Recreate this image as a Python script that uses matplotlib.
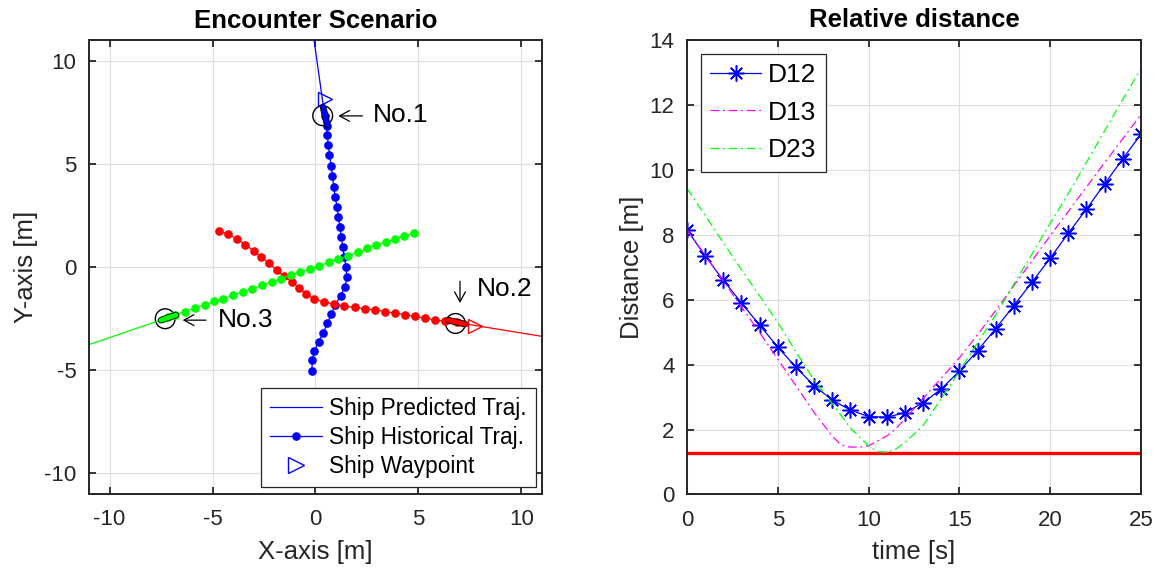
import matplotlib
matplotlib.use('Agg')
import matplotlib.pyplot as plt
import matplotlib.patheffects as pe
from matplotlib.lines import Line2D
from matplotlib.patches import Circle

plt.rcParams['font.family'] = ['Liberation Sans', 'DejaVu Sans']
plt.rcParams['axes.unicode_minus'] = False

# ---------------- data: encounter scenario ----------------
# Ship No.1 (blue) historical trajectory
ship1_hist_x = [-0.18, -0.15, -0.05, 0.16, 0.37, 0.58, 0.77, 0.95, 1.22, 1.44, 1.52, 1.48,
                1.40, 1.32, 1.26, 1.18, 1.11, 1.05, 0.95, 0.89, 0.82, 0.76, 0.68, 0.63,
                0.57, 0.55, 0.45]
ship1_hist_y = [-5.05, -4.53, -4.08, -3.64, -3.20, -2.75, -2.30, -1.86, -1.41, -0.97, -0.49, 0.00,
                0.49, 0.97, 1.46, 1.94, 2.43, 2.91, 3.40, 3.88, 4.40, 4.89, 5.42, 5.91,
                6.39, 6.82, 7.30]
# Ship No.2 (red)
ship2_hist_x = [-4.70, -4.23, -3.79, -3.40, -3.01, -2.63, -2.26, -1.89, -1.53, -1.16, -0.81, -0.44,
                -0.05, 0.40, 0.89, 1.40, 1.90, 2.39, 2.90, 3.39, 3.87, 4.36, 4.84, 5.32,
                5.81, 6.30, 6.85]
ship2_hist_y = [1.75, 1.57, 1.34, 1.07, 0.78, 0.46, 0.17, -0.16, -0.44, -0.73, -1.02, -1.33,
                -1.57, -1.71, -1.81, -1.91, -1.97, -2.04, -2.10, -2.17, -2.25, -2.33, -2.41, -2.49,
                -2.57, -2.65, -2.70]
# Ship No.3 (green)
ship3_hist_x = [4.79, 4.32, 3.87, 3.42, 2.95, 2.50, 2.05, 1.56, 1.11, 0.64, 0.18, -0.29,
                -0.74, -1.21, -1.68, -2.13, -2.60, -3.06, -3.53, -4.00, -4.47, -4.92, -5.39, -5.86,
                -6.33, -6.80, -7.15]
ship3_hist_y = [1.65, 1.49, 1.34, 1.21, 1.05, 0.89, 0.70, 0.53, 0.36, 0.21, 0.05, -0.11,
                -0.26, -0.42, -0.58, -0.74, -0.90, -1.07, -1.21, -1.39, -1.55, -1.68, -1.84, -2.00,
                -2.17, -2.33, -2.46]

# predicted trajectories (ship position -> beyond the view)
ship1_pred_x = [0.45, -0.35]
ship1_pred_y = [7.30, 13.0]
ship2_pred_x = [6.85, 13.0]
ship2_pred_y = [-2.70, -3.70]
ship3_pred_x = [-7.15, -13.0]
ship3_pred_y = [-2.46, -4.46]

# waypoints
ship1_wp = (0.45, 8.15)
ship2_wp = (7.75, -2.85)

# ship hull segments (stern -> bow)
ship1_hull_x = [0.57, 0.37]
ship1_hull_y = [6.88, 7.75]
ship2_hull_x = [6.45, 7.26]
ship2_hull_y = [-2.59, -2.78]
ship3_hull_x = [-6.78, -7.50]
ship3_hull_y = [-2.34, -2.59]

# highlight circles (centres)
ship_circle_x = [0.35, 6.80, -7.30]
ship_circle_y = [7.33, -2.75, -2.52]

# label arrows (tail -> head) and ship names
arrow_tail = [(2.28, 7.32), (7.02, -0.70), (-5.32, -2.59)]
arrow_head = [(1.11, 7.32), (7.02, -1.76), (-6.45, -2.59)]
name_texts = ['No.1', 'No.2', 'No.3']
name_x = [2.81, 7.83, -4.76]
name_y = [7.36, -1.10, -2.56]

# ---------------- data: relative distance ----------------
time_s = list(range(26))
D12 = [8.15, 7.35, 6.60, 5.90, 5.22, 4.54, 3.92, 3.35, 2.91, 2.60, 2.40, 2.38, 2.52,
       2.82, 3.25, 3.80, 4.43, 5.11, 5.82, 6.54, 7.28, 8.05, 8.79, 9.57, 10.34, 11.10]
t13 = [0, 1, 2, 3, 4, 5, 6, 7, 8, 8.5, 9, 9.5, 10, 10.5, 11, 11.5, 12,
       13, 14, 15, 16, 17, 18, 19, 20, 21, 22, 23, 24, 25]
D13 = [8.15, 7.37, 6.58, 5.78, 4.99, 4.17, 3.35, 2.53, 1.80, 1.52, 1.46, 1.46, 1.50, 1.65,
       1.80, 2.02, 2.33, 2.96, 3.58, 4.21, 4.92, 5.67, 6.43, 7.20, 7.97, 8.72, 9.47, 10.22,
       10.96, 11.70]
t23 = [0, 1, 2, 3, 4, 5, 6, 7, 8, 9, 10, 10.5, 11, 11.5, 12,
       13, 14, 15, 16, 17, 18, 19, 20, 21, 22, 23, 24, 25]
D23 = [9.43, 8.60, 7.76, 6.93, 6.12, 5.30, 4.40, 3.52, 2.80, 2.05, 1.50, 1.32, 1.30, 1.40,
       1.60, 2.12, 2.95, 3.80, 4.67, 5.53, 6.48, 7.41, 8.35, 9.27, 10.23, 11.20, 12.17, 13.12]
safe_distance = 1.27

BLUE, RED, GREEN, MAG = '#0000ff', '#ff0000', '#00ff00', '#ff00ff'
AXC = '#262626'


def style(ax):
    ax.grid(True, color='#dedede', lw=0.8)
    ax.set_axisbelow(True)
    for s in ax.spines.values():
        s.set_linewidth(1.4)
        s.set_color(AXC)
    ax.tick_params(direction='in', length=5, width=1.3, top=True, right=True,
                   colors=AXC, labelsize=16)
    ax.tick_params(axis='x', pad=11)
    ax.tick_params(axis='y', pad=9)


fig = plt.figure(figsize=(11.62, 5.72), dpi=100)
ax1 = fig.add_axes([0.0766, 0.1372, 0.3898, 0.7928])
ax2 = fig.add_axes([0.5912, 0.1355, 0.3907, 0.7946])

# ---------------- left plot ----------------
style(ax1)
pred = [(ship1_pred_x, ship1_pred_y, BLUE), (ship2_pred_x, ship2_pred_y, RED),
        (ship3_pred_x, ship3_pred_y, GREEN)]
for px, py, c in pred:
    ax1.plot(px, py, color=c, lw=0.9)
hist = [(ship1_hist_x, ship1_hist_y, BLUE), (ship2_hist_x, ship2_hist_y, RED),
        (ship3_hist_x, ship3_hist_y, GREEN)]
for hx, hy, c in hist:
    ax1.plot(hx, hy, color=c, lw=0.9, marker='o', ms=5.2, mec=c, mfc=c)
ax1.plot(*ship1_wp, marker='>', ms=10, mfc='none', mec=BLUE, mew=1.0, ls='none')
ax1.plot(*ship2_wp, marker='>', ms=10, mfc='none', mec=RED, mew=1.0, ls='none')
hulls = [(ship1_hull_x, ship1_hull_y, BLUE), (ship2_hull_x, ship2_hull_y, RED),
         (ship3_hull_x, ship3_hull_y, GREEN)]
for hx, hy, c in hulls:
    ax1.plot(hx, hy, color=c, lw=3.6, solid_capstyle='round',
             path_effects=[pe.Stroke(linewidth=4.8, foreground='black'), pe.Normal()])
for cx, cy in zip(ship_circle_x, ship_circle_y):
    ax1.add_patch(Circle((cx, cy), 0.48, fill=False, ec='black', lw=1.0))
for tail, head in zip(arrow_tail, arrow_head):
    ax1.annotate('', xy=head, xytext=tail,
                 arrowprops=dict(arrowstyle='->,head_length=0.55,head_width=0.3',
                                 lw=0.9, color='black', shrinkA=0, shrinkB=0,
                                 mutation_scale=13))
for t, x, y in zip(name_texts, name_x, name_y):
    ax1.text(x, y, t, fontsize=19, va='center', ha='left', color='black')

ax1.set_xlim(-11, 11)
ax1.set_ylim(-11, 11)
ax1.set_xticks([-10, -5, 0, 5, 10])
ax1.set_yticks([-10, -5, 0, 5, 10])
ax1.set_xlabel('X-axis [m]', fontsize=18.5, color=AXC, labelpad=7)
ax1.set_ylabel('Y-axis [m]', fontsize=18.5, color=AXC, labelpad=4.5)
ax1.set_title('Encounter Scenario', fontsize=18.5, fontweight='bold', pad=9)

h1 = [Line2D([], [], color=BLUE, lw=0.9),
      Line2D([], [], color=BLUE, lw=0.9, marker='o', ms=5.2),
      Line2D([], [], color=BLUE, marker='>', ms=11, mfc='none', ls='none')]
leg1 = ax1.legend(h1, ['Ship Predicted Traj.', 'Ship Historical Traj.', 'Ship Waypoint'],
                  loc='lower right', fontsize=16.3, fancybox=False, framealpha=1,
                  edgecolor=AXC, borderaxespad=0.28, handlelength=2.3, handletextpad=0.3,
                  labelspacing=0.26, borderpad=0.4)
leg1.get_frame().set_linewidth(0.9)

# ---------------- right plot ----------------
style(ax2)
ax2.axhline(safe_distance, color=RED, lw=2.4)
ax2.plot(time_s, D12, color=BLUE, lw=0.9, marker=(8, 2, 0), ms=11.5, mew=1.1, label='D12')
ax2.plot(t13, D13, color=MAG, lw=0.9, ls=(0, (7, 3, 1.5, 3)), label='D13')
ax2.plot(t23, D23, color=GREEN, lw=0.9, ls=(0, (7, 3, 1.5, 3)), label='D23')
ax2.set_xlim(0, 25)
ax2.set_ylim(0, 14)
ax2.set_xticks([0, 5, 10, 15, 20, 25])
ax2.set_yticks(list(range(0, 15, 2)))
ax2.set_xlabel('time [s]', fontsize=18.5, color=AXC, labelpad=7)
ax2.set_ylabel('Distance [m]', fontsize=18.5, color=AXC, labelpad=4)
ax2.set_title('Relative distance', fontsize=18.5, fontweight='bold', pad=9)
leg2 = ax2.legend(loc='upper left', fontsize=19, fancybox=False, framealpha=1,
                  edgecolor=AXC, borderaxespad=0.52, handlelength=1.95, handletextpad=0.25,
                  labelspacing=0.52, borderpad=0.35)
leg2.get_frame().set_linewidth(0.9)

fig.savefig('out.png', dpi=100)
